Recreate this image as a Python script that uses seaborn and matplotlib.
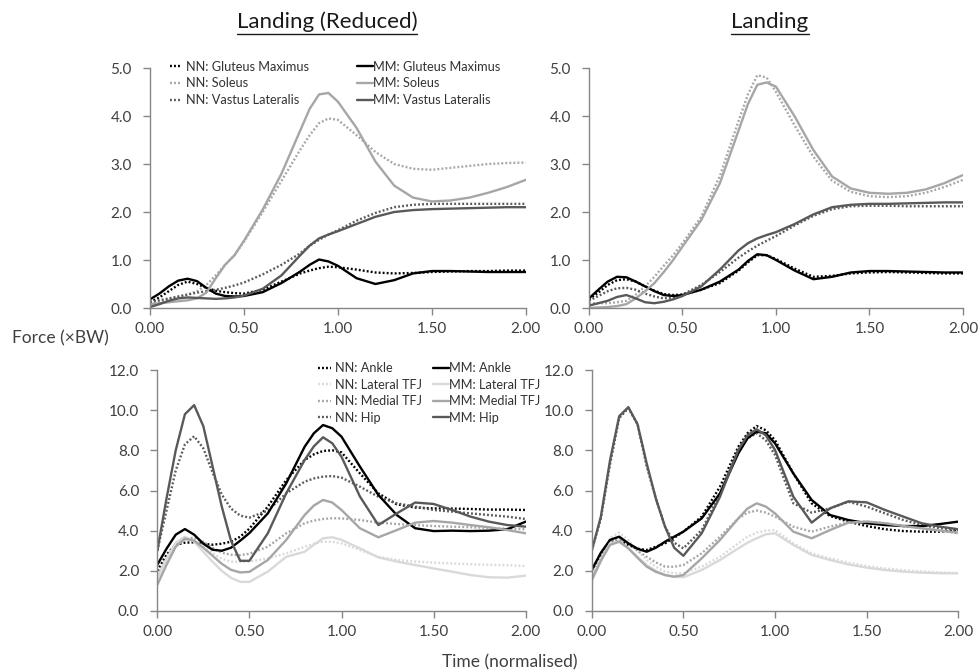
# Landing: NN vs MM muscle and joint contact forces, reduced vs full model
import numpy as np
import pandas as pd
import matplotlib
matplotlib.use('Agg')
import matplotlib.pyplot as plt
from matplotlib.lines import Line2D
from matplotlib.ticker import FormatStrFormatter
import seaborn as sns

sns.set_style('white')
plt.rcParams['font.family'] = ['Lato', 'DejaVu Sans']

# ---------------------------------------------------------------------------
# Data
# ---------------------------------------------------------------------------
TIME = [0.0, 0.05, 0.1, 0.15, 0.2, 0.25, 0.3, 0.35, 0.4, 0.45, 0.5,
        0.6, 0.7, 0.8, 0.85, 0.9, 0.95, 1.0, 1.1, 1.2, 1.3, 1.4, 1.5, 1.6, 1.7, 1.8, 1.9, 2.0]

# muscles, Landing (Reduced)
RED_NN_GLUT = [0.12, 0.22, 0.35, 0.48, 0.55, 0.50, 0.42, 0.36, 0.33, 0.31, 0.30,
               0.38, 0.55, 0.72, 0.78, 0.83, 0.86, 0.85, 0.80, 0.74, 0.72, 0.73, 0.75, 0.76, 0.77, 0.77, 0.78, 0.78]
RED_NN_SOL = [0.10, 0.13, 0.18, 0.23, 0.28, 0.35, 0.48, 0.68, 0.90, 1.10, 1.38,
              2.00, 2.65, 3.30, 3.60, 3.85, 3.95, 3.92, 3.60, 3.25, 3.00, 2.90, 2.88, 2.92, 2.96, 3.00, 3.02, 3.03]
RED_NN_VAST = [0.12, 0.16, 0.20, 0.24, 0.28, 0.32, 0.35, 0.38, 0.42, 0.47, 0.53,
               0.70, 0.90, 1.14, 1.30, 1.42, 1.53, 1.62, 1.82, 1.98, 2.10, 2.15, 2.17, 2.17, 2.17, 2.17, 2.17, 2.17]
RED_MM_GLUT = [0.18, 0.30, 0.45, 0.57, 0.61, 0.56, 0.42, 0.30, 0.25, 0.24, 0.25,
               0.33, 0.52, 0.76, 0.90, 1.01, 0.97, 0.88, 0.62, 0.50, 0.58, 0.72, 0.77, 0.77, 0.76, 0.75, 0.75, 0.75]
RED_MM_SOL = [0.08, 0.10, 0.12, 0.14, 0.16, 0.20, 0.32, 0.62, 0.90, 1.10, 1.40,
              2.05, 2.80, 3.70, 4.15, 4.45, 4.48, 4.30, 3.75, 3.05, 2.55, 2.30, 2.22, 2.24, 2.30, 2.40, 2.52, 2.67]
RED_MM_VAST = [0.02, 0.08, 0.15, 0.20, 0.22, 0.21, 0.20, 0.19, 0.20, 0.22, 0.26,
               0.40, 0.68, 1.10, 1.30, 1.45, 1.53, 1.60, 1.75, 1.90, 2.00, 2.04, 2.06, 2.07, 2.08, 2.09, 2.10, 2.10]

# muscles, Landing
LND_NN_GLUT = [0.18, 0.32, 0.48, 0.58, 0.60, 0.55, 0.45, 0.36, 0.29, 0.27, 0.28,
               0.38, 0.52, 0.78, 0.95, 1.10, 1.10, 1.02, 0.82, 0.65, 0.67, 0.72, 0.74, 0.75, 0.74, 0.73, 0.72, 0.72]
LND_NN_SOL = [0.10, 0.10, 0.10, 0.12, 0.15, 0.28, 0.45, 0.65, 0.88, 1.10, 1.35,
              1.90, 2.75, 3.90, 4.45, 4.85, 4.80, 4.50, 3.80, 3.15, 2.65, 2.42, 2.33, 2.31, 2.33, 2.40, 2.52, 2.67]
LND_NN_VAST = [0.15, 0.25, 0.35, 0.41, 0.42, 0.38, 0.30, 0.24, 0.20, 0.22, 0.28,
               0.48, 0.75, 1.05, 1.18, 1.30, 1.40, 1.50, 1.72, 1.92, 2.06, 2.12, 2.13, 2.13, 2.12, 2.12, 2.12, 2.12]
LND_MM_GLUT = [0.20, 0.38, 0.55, 0.65, 0.64, 0.55, 0.45, 0.35, 0.27, 0.25, 0.27,
               0.38, 0.55, 0.80, 0.98, 1.12, 1.10, 1.00, 0.78, 0.60, 0.65, 0.74, 0.77, 0.77, 0.76, 0.75, 0.74, 0.74]
LND_MM_SOL = [0.00, 0.01, 0.02, 0.04, 0.08, 0.20, 0.35, 0.52, 0.75, 1.00, 1.28,
              1.83, 2.60, 3.70, 4.25, 4.65, 4.70, 4.61, 3.99, 3.29, 2.74, 2.49, 2.40, 2.38, 2.40, 2.47, 2.60, 2.77]
LND_MM_VAST = [0.05, 0.10, 0.15, 0.23, 0.27, 0.20, 0.12, 0.10, 0.13, 0.18, 0.25,
               0.45, 0.80, 1.20, 1.35, 1.45, 1.52, 1.58, 1.75, 1.95, 2.10, 2.15, 2.17, 2.17, 2.18, 2.19, 2.20, 2.20]

# joints, Landing (Reduced)
RED_NN_ANK = [2.00, 2.80, 3.30, 3.40, 3.42, 3.35, 3.30, 3.35, 3.45, 3.70, 4.10,
              5.20, 6.52, 7.52, 7.80, 7.97, 8.00, 7.90, 6.85, 5.86, 5.31, 5.15, 5.11, 5.10, 5.08, 5.05, 5.05, 5.03]
RED_NN_LAT = [1.70, 2.60, 3.30, 3.55, 3.55, 3.25, 2.87, 2.60, 2.46, 2.44, 2.46,
              2.62, 2.87, 3.20, 3.35, 3.45, 3.45, 3.37, 3.04, 2.70, 2.54, 2.46, 2.41, 2.37, 2.33, 2.30, 2.28, 2.24]
RED_NN_MED = [1.80, 2.60, 3.30, 3.60, 3.65, 3.45, 3.15, 2.90, 2.80, 2.78, 2.85,
              3.20, 3.87, 4.37, 4.50, 4.58, 4.62, 4.61, 4.53, 4.40, 4.33, 4.28, 4.23, 4.20, 4.17, 4.14, 4.10, 4.07]
RED_NN_HIP = [3.00, 5.00, 7.00, 8.30, 8.70, 8.10, 6.90, 5.80, 5.10, 4.75, 4.65,
              5.00, 5.86, 6.44, 6.60, 6.69, 6.72, 6.64, 6.19, 5.69, 5.36, 5.20, 5.03, 4.95, 4.86, 4.78, 4.70, 4.58]
RED_MM_ANK = [2.30, 3.10, 3.80, 4.08, 3.80, 3.35, 3.05, 3.00, 3.15, 3.50, 3.88,
              4.86, 6.36, 8.18, 8.85, 9.26, 9.10, 8.68, 7.19, 5.78, 4.78, 4.12, 3.98, 4.00, 3.98, 4.00, 4.07, 4.45]
RED_MM_LAT = [1.60, 2.60, 3.40, 3.70, 3.45, 2.95, 2.45, 2.00, 1.65, 1.45, 1.45,
              1.96, 2.70, 2.95, 3.30, 3.62, 3.67, 3.54, 3.12, 2.67, 2.46, 2.29, 2.12, 1.96, 1.79, 1.68, 1.66, 1.76]
RED_MM_MED = [1.30, 2.30, 3.20, 3.60, 3.50, 3.15, 2.75, 2.35, 2.05, 1.92, 1.95,
              2.54, 3.54, 4.78, 5.25, 5.53, 5.40, 5.03, 4.12, 3.67, 4.03, 4.40, 4.48, 4.40, 4.28, 4.17, 4.03, 3.87]
RED_MM_HIP = [3.00, 5.60, 8.00, 9.80, 10.25, 9.20, 7.20, 5.20, 3.50, 2.50, 2.50,
              3.87, 5.86, 7.52, 8.20, 8.65, 8.35, 7.68, 5.70, 4.28, 4.86, 5.40, 5.33, 5.03, 4.70, 4.45, 4.28, 4.20]

# joints, Landing
LND_NN_ANK = [2.00, 2.85, 3.45, 3.50, 3.29, 3.10, 3.04, 3.20, 3.37, 3.65, 3.95,
              4.70, 6.19, 8.18, 8.85, 9.21, 9.00, 8.51, 6.85, 5.36, 4.73, 4.45, 4.23, 4.07, 3.98, 3.95, 3.95, 4.03]
LND_NN_LAT = [1.70, 2.70, 3.62, 3.90, 3.54, 3.00, 2.54, 2.20, 1.96, 1.88, 1.88,
              2.21, 2.70, 3.37, 3.70, 3.90, 4.00, 4.03, 3.37, 2.87, 2.62, 2.41, 2.24, 2.12, 2.03, 1.97, 1.92, 1.88]
LND_NN_MED = [1.60, 2.60, 3.54, 3.60, 3.37, 3.00, 2.70, 2.42, 2.21, 2.20, 2.29,
              2.87, 3.70, 4.61, 4.90, 5.00, 4.90, 4.70, 4.20, 3.95, 4.20, 4.40, 4.45, 4.37, 4.23, 4.12, 4.00, 3.87]
LND_NN_HIP = [3.00, 4.60, 7.30, 9.60, 10.10, 9.30, 7.20, 5.60, 4.20, 3.40, 3.12,
              4.03, 5.86, 8.02, 8.60, 8.85, 8.50, 7.77, 5.36, 4.90, 5.11, 5.44, 5.20, 4.86, 4.53, 4.28, 4.12, 4.03]
LND_MM_ANK = [2.04, 2.90, 3.54, 3.70, 3.37, 3.10, 2.95, 3.15, 3.45, 3.70, 3.95,
              4.61, 5.86, 7.85, 8.60, 8.93, 8.85, 8.35, 6.85, 5.53, 4.78, 4.53, 4.37, 4.28, 4.23, 4.23, 4.33, 4.45]
LND_MM_LAT = [1.50, 2.50, 3.37, 3.49, 3.12, 2.70, 2.29, 2.00, 1.79, 1.70, 1.68,
              2.04, 2.54, 3.12, 3.40, 3.62, 3.82, 3.87, 3.29, 2.79, 2.54, 2.32, 2.16, 2.04, 1.96, 1.91, 1.88, 1.88]
LND_MM_MED = [1.54, 2.50, 3.29, 3.45, 3.12, 2.65, 2.21, 1.95, 1.79, 1.71, 1.79,
              2.62, 3.54, 4.61, 5.10, 5.36, 5.20, 4.86, 3.95, 3.62, 4.03, 4.40, 4.45, 4.37, 4.23, 4.12, 4.00, 3.90]
LND_MM_HIP = [3.00, 4.70, 7.50, 9.70, 10.15, 9.30, 7.35, 5.60, 4.20, 3.15, 2.75,
              3.87, 5.69, 8.02, 8.75, 9.05, 8.75, 8.02, 5.69, 4.40, 5.11, 5.46, 5.41, 5.03, 4.70, 4.37, 4.20, 4.07]

MUSCLE_NAMES = ['Gluteus Maximus', 'Soleus', 'Vastus Lateralis']
JOINT_NAMES = ['Ankle', 'Lateral TFJ', 'Medial TFJ', 'Hip']

# ---------------------------------------------------------------------------
# Styles
# ---------------------------------------------------------------------------
BLACK = '#000000'
MID = '#a6a6a6'
DARK = '#595959'
PALE = '#d9d9d9'
AXIS_COL = '#868686'
TEXT_COL = '#404040'
LW = 1.7
DOT = (0, (0.8, 0.9))

MUSCLE_COLS = [BLACK, MID, DARK]
JOINT_COLS = [BLACK, PALE, MID, DARK]

W, H = 979, 671
fig = plt.figure(figsize=(W / 100, H / 100), dpi=100)


def px_axes(left, right, top, bottom):
    return fig.add_axes([left / W, 1 - bottom / H, (right - left) / W, (bottom - top) / H])


ax_tl = px_axes(150, 525.7, 68, 308)
ax_tr = px_axes(589, 963, 68, 308)
ax_bl = px_axes(157.3, 525.7, 370, 611)
ax_br = px_axes(591.7, 958.3, 370, 611)


def draw_panel(ax, nn_series, mm_series, names, colors, ymax, ystep):
    for vals, name, col in zip(nn_series, names, colors):
        sns.lineplot(x=TIME, y=vals, ax=ax, color=col, lw=LW, linestyle=DOT,
                     label='NN: ' + name, legend=False)
    for vals, name, col in zip(mm_series, names, colors):
        sns.lineplot(x=TIME, y=vals, ax=ax, color=col, lw=LW, linestyle='-',
                     label='MM: ' + name, legend=False)

    ax.set_xlim(0, 2)
    ax.set_ylim(0, ymax)
    ax.set_xticks([0, 0.5, 1.0, 1.5, 2.0])
    ax.set_yticks(np.arange(0, ymax + 0.001, ystep))
    ax.xaxis.set_major_formatter(FormatStrFormatter('%.2f'))
    ax.yaxis.set_major_formatter(FormatStrFormatter('%.1f'))
    ax.set_xlabel('')
    ax.set_ylabel('')
    for s in ['top', 'right']:
        ax.spines[s].set_visible(False)
    for s in ['left', 'bottom']:
        ax.spines[s].set_color(AXIS_COL)
        ax.spines[s].set_linewidth(1.0)
    ax.tick_params(axis='both', which='major', bottom=True, left=True, direction='out',
                   length=5, width=1.0, color=AXIS_COL, labelcolor=TEXT_COL, labelsize=11)
    ax.tick_params(axis='x', pad=5)
    ax.tick_params(axis='y', pad=8)
    ax.set_facecolor('white')


def add_legends(ax, n, x_nn, x_mm, y_top):
    handles, labels = ax.get_legend_handles_labels()
    kw = dict(loc='upper left', frameon=False, fontsize=9.2, labelspacing=0.36,
              borderpad=0, borderaxespad=0, labelcolor='#333333')
    # NN entries: short dotted handle, small gap; MM entries: longer solid handle
    leg1 = ax.legend(handles[:n], labels[:n], bbox_to_anchor=(x_nn, y_top),
                     handlelength=1.0, handletextpad=0.3, **kw)
    ax.add_artist(leg1)
    ax.legend(handles[n:], labels[n:], bbox_to_anchor=(x_mm, y_top),
              handlelength=1.25, handletextpad=0.05, **kw)


draw_panel(ax_tl, [RED_NN_GLUT, RED_NN_SOL, RED_NN_VAST], [RED_MM_GLUT, RED_MM_SOL, RED_MM_VAST],
           MUSCLE_NAMES, MUSCLE_COLS, 5.0, 1.0)
draw_panel(ax_tr, [LND_NN_GLUT, LND_NN_SOL, LND_NN_VAST], [LND_MM_GLUT, LND_MM_SOL, LND_MM_VAST],
           MUSCLE_NAMES, MUSCLE_COLS, 5.0, 1.0)
draw_panel(ax_bl, [RED_NN_ANK, RED_NN_LAT, RED_NN_MED, RED_NN_HIP],
           [RED_MM_ANK, RED_MM_LAT, RED_MM_MED, RED_MM_HIP], JOINT_NAMES, JOINT_COLS, 12.0, 2.0)
draw_panel(ax_br, [LND_NN_ANK, LND_NN_LAT, LND_NN_MED, LND_NN_HIP],
           [LND_MM_ANK, LND_MM_LAT, LND_MM_MED, LND_MM_HIP], JOINT_NAMES, JOINT_COLS, 12.0, 2.0)

add_legends(ax_tl, 3, 0.052, 0.55, 1.03)
add_legends(ax_bl, 4, 0.436, 0.748, 1.033)
# the right-hand panels carry no legend
ax_tr.legend_ = None
ax_br.legend_ = None

# titles (underlined) and shared axis labels
t1 = fig.text(327 / W, 1 - 22 / H, 'Landing (Reduced)', ha='center', va='center',
              fontsize=16, color='#1a1a1a')
t2 = fig.text(770 / W, 1 - 22 / H, 'Landing', ha='center', va='center',
              fontsize=16, color='#1a1a1a')
fig.text(60 / W, 1 - 338 / H, 'Force (\u00d7BW)', ha='center', va='center',
         fontsize=12.5, color=TEXT_COL)
fig.text(510 / W, 1 - 662 / H, 'Time (normalised)', ha='center', va='center',
         fontsize=12.5, color=TEXT_COL)

fig.canvas.draw()
renderer = fig.canvas.get_renderer()
for t in (t1, t2):
    bb = t.get_window_extent(renderer)
    y = (bb.y0 - 1.5) / H
    fig.add_artist(Line2D([bb.x0 / W, bb.x1 / W], [y, y], transform=fig.transFigure,
                          color='#1a1a1a', lw=1.0))

fig.savefig('out.png', dpi=100, facecolor='white')
